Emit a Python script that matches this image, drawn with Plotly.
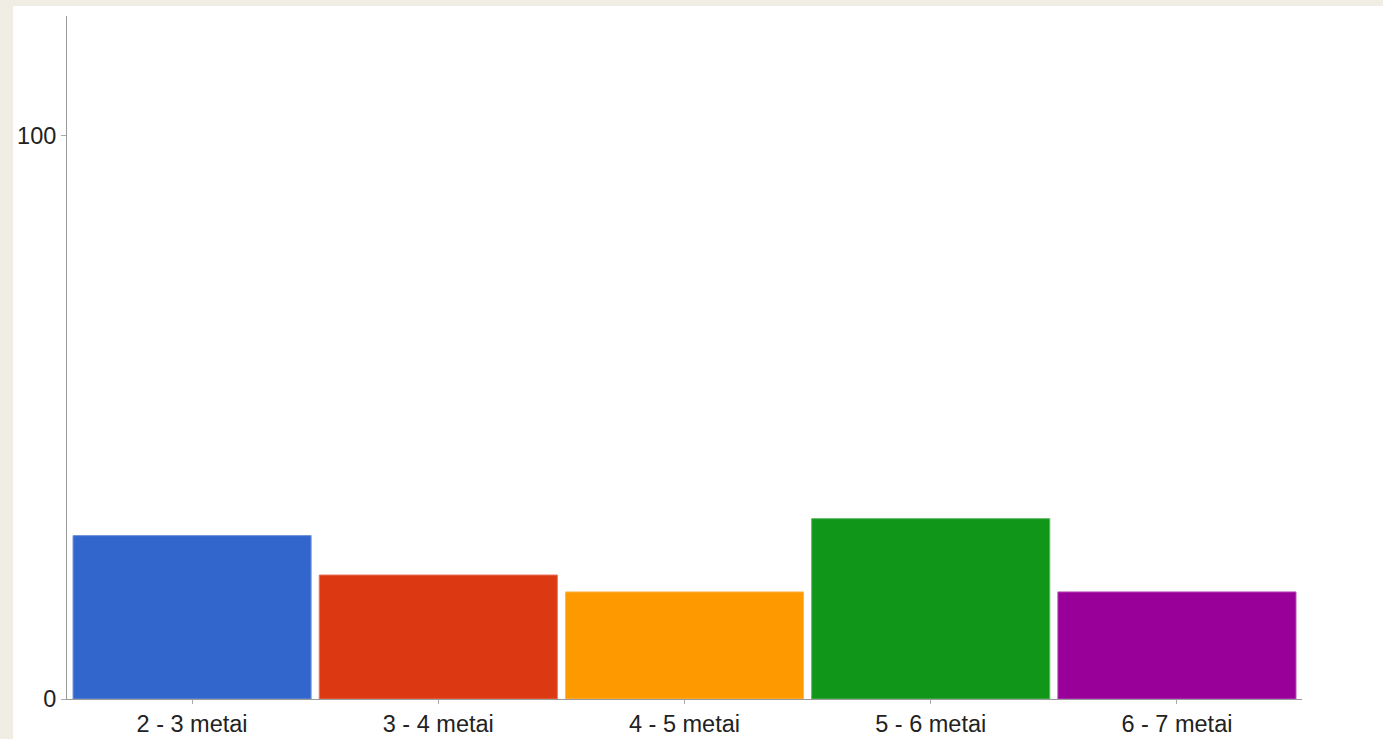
import plotly.graph_objects as go

categories = ["2 - 3 metai", "3 - 4 metai", "4 - 5 metai", "5 - 6 metai", "6 - 7 metai"]
values = [29, 22, 19, 32, 19]
colors = ["#3366cc", "#dc3912", "#ff9900", "#109618", "#990099"]
line_colors = ["#6f93dc", "#e77559", "#ffb84d", "#58b85f", "#b84db8"]
y_ticks = [0, 100]

W, H = 1383, 739
L, R, T, B = 67, 81, 16, 40
pw, ph = W - L - R, H - T - B

fig = go.Figure(go.Bar(
    x=list(range(len(categories))),
    y=values,
    marker=dict(color=colors, line=dict(color=line_colors, width=1)),
    hoverinfo="skip",
))

fig.add_shape(type="rect", xref="paper", yref="paper",
              x0=(13 - L) / pw, x1=(W - L + 5) / pw,
              y0=(ph + T - H - 5) / ph, y1=(ph + T - 6) / ph,
              fillcolor="white", line=dict(width=0), layer="below")

fig.update_layout(
    width=W, height=H,
    autosize=False,
    margin=dict(l=L, r=R, t=T, b=B, pad=0, autoexpand=False),
    paper_bgcolor="#f0ede4",
    plot_bgcolor="white",
    bargap=0.033,
    showlegend=False,
    font=dict(family="Liberation Sans, Arial, sans-serif", size=23.5, color="#222222"),
    xaxis=dict(
        range=[-0.508, 4.508],
        tickmode="array",
        tickvals=list(range(len(categories))),
        ticktext=categories,
        showgrid=False, zeroline=False,
        showline=True, linecolor="#999999", linewidth=1,
        ticks="outside", ticklen=4, tickcolor="#aaaaaa",
        automargin=False,
        fixedrange=True,
    ),
    yaxis=dict(
        range=[0, 121.2],
        tickmode="array",
        tickvals=y_ticks,
        ticktext=[str(v) for v in y_ticks],
        showgrid=False, zeroline=False,
        showline=True, linecolor="#999999", linewidth=1,
        ticks="outside", ticklen=5, tickcolor="#aaaaaa",
        automargin=False,
        fixedrange=True,
    ),
)

fig.write_html("out.html", config={"displayModeBar": False})
